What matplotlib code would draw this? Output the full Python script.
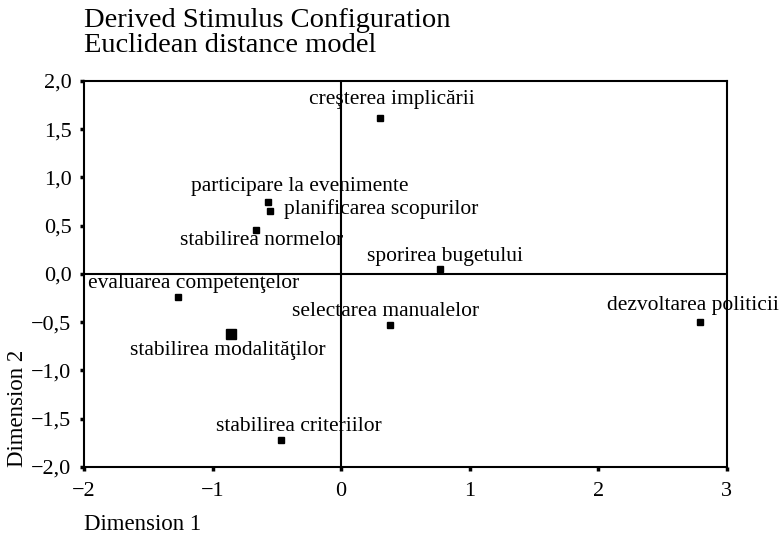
import matplotlib
matplotlib.use('Agg')
import matplotlib.pyplot as plt
from matplotlib.ticker import FuncFormatter

# stimulus coordinates (Dimension 1, Dimension 2)
labels = ['creşterea implicării', 'participare la evenimente',
          'planificarea scopurilor', 'stabilirea normelor',
          'sporirea bugetului', 'evaluarea competenţelor',
          'selectarea manualelor', 'stabilirea modalităţilor',
          'stabilirea criteriilor', 'dezvoltarea politicii']
dim1 = [0.30, -0.57, -0.55, -0.66, 0.77, -1.27, 0.38, -0.86, -0.47, 2.79]
dim2 = [1.62, 0.75, 0.65, 0.46, 0.05, -0.24, -0.53, -0.62, -1.72, -0.50]

xticks = [-2, -1, 0, 1, 2, 3]
yticks = [-2.0, -1.5, -1.0, -0.5, 0.0, 0.5, 1.0, 1.5, 2.0]

# label offsets in pixels (dx, dy, horizontal alignment)
offsets = {
    'creşterea implicării': (12, 18, 'center'),
    'participare la evenimente': (32, 15, 'center'),
    'planificarea scopurilor': (14, 2, 'left'),
    'stabilirea normelor': (5, -11, 'center'),
    'sporirea bugetului': (5, 13, 'center'),
    'evaluarea competenţelor': (16, 14, 'center'),
    'selectarea manualelor': (-4, 14, 'center'),
    'stabilirea modalităţilor': (-3, -17, 'center'),
    'stabilirea criteriilor': (18, 13, 'center'),
    'dezvoltarea politicii': (-7, 17, 'center'),
}

plt.rcParams['font.family'] = ['Liberation Serif', 'DejaVu Serif']

fig = plt.figure(figsize=(7.8, 5.36), dpi=100)
ax = fig.add_axes([0.1077, 0.1287, 0.824, 0.7203])

ax.set_xlim(-2, 3)
ax.set_ylim(-2, 2)
ax.axhline(0, color='black', lw=1.5, zorder=1)
ax.axvline(0, color='black', lw=1.5, zorder=1)

for lab, x, y in zip(labels, dim1, dim2):
    ms = 6.5 if lab == 'stabilirea modalităţilor' else 5
    ax.plot(x, y, 's', color='black', ms=ms, zorder=3)
    dx, dy, ha = offsets[lab]
    ax.annotate(lab, (x, y), xytext=(dx * 0.72, dy * 0.72),
                textcoords='offset points', ha=ha, va='center',
                fontsize=15.5, zorder=4, annotation_clip=False)

ax.set_xticks(xticks)
ax.set_yticks(yticks)
ax.xaxis.set_major_formatter(FuncFormatter(lambda v, p: f'{v:g}'.replace('-', '\u2212')))
ax.yaxis.set_major_formatter(FuncFormatter(lambda v, p: f'{v:.1f}'.replace('.', ',').replace('-', '\u2212')))
ax.tick_params(direction='out', length=3, width=2.5, labelsize=16)
ax.tick_params(axis='x', pad=8)
ax.tick_params(axis='y', pad=6)
for s in ax.spines.values():
    s.set_linewidth(1.5)

ax.set_xlabel('Dimension 1', fontsize=16.5, loc='left', labelpad=9)
ax.set_ylabel('Dimension 2', fontsize=16.5, loc='bottom', labelpad=2)

fig.text(0.1077, 0.9496, 'Derived Stimulus Configuration', fontsize=20.5, va='baseline')
fig.text(0.1077, 0.903, 'Euclidean distance model', fontsize=20.5, va='baseline')

fig.savefig('out.png', dpi=100)
